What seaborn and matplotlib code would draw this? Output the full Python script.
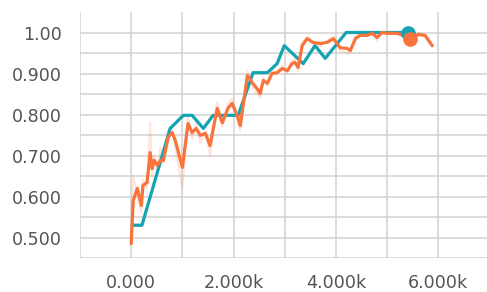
import pandas as pd
import matplotlib
matplotlib.use("Agg")
import matplotlib.pyplot as plt
import seaborn as sns

# ==============================
# datos
# ==============================
teal_step = [20, 210, 760, 1020, 1190, 1410, 1600, 2090, 2380, 2660, 2850,
             2990, 3360, 3590, 3790, 4200, 5410]
teal_value = [0.530, 0.530, 0.766, 0.798, 0.798, 0.766, 0.798, 0.798, 0.902,
              0.902, 0.924, 0.968, 0.924, 0.968, 0.937, 1.000, 1.000]

orange_step = [0, 40, 120, 200, 230, 310, 370, 410, 450, 510, 570, 630, 720,
               800, 860, 1000, 1110, 1190, 1270, 1350, 1450, 1540, 1680, 1780,
               1890, 1970, 2070, 2130, 2270, 2320, 2360, 2460, 2520, 2580, 2660,
               2750, 2850, 2950, 3050, 3140, 3200, 3260, 3340, 3440, 3550, 3690,
               3830, 3950, 4080, 4220, 4280, 4380, 4470, 4610, 4710, 4800, 4900,
               5000, 5100, 5200, 5310, 5450, 5610, 5740, 5880]
orange_smooth = [0.485, 0.590, 0.620, 0.578, 0.627, 0.634, 0.707, 0.668, 0.688,
                 0.676, 0.688, 0.688, 0.744, 0.756, 0.737, 0.671, 0.778, 0.756,
                 0.766, 0.749, 0.754, 0.724, 0.815, 0.780, 0.815, 0.827, 0.798,
                 0.773, 0.895, 0.888, 0.878, 0.863, 0.851, 0.883, 0.876, 0.900,
                 0.902, 0.912, 0.907, 0.924, 0.927, 0.915, 0.968, 0.985, 0.976,
                 0.973, 0.976, 0.985, 0.963, 0.961, 0.956, 0.985, 0.993, 0.993,
                 0.998, 0.988, 1.000, 0.998, 0.998, 0.998, 0.993, 0.985, 0.995,
                 0.993, 0.968]
orange_raw = [0.485, 0.650, 0.600, 0.560, 0.640, 0.620, 0.780, 0.650, 0.700, 0.660,
              0.720, 0.680, 0.760, 0.770, 0.720, 0.620, 0.790, 0.740, 0.780, 0.730,
              0.760, 0.700, 0.830, 0.770, 0.825, 0.840, 0.790, 0.760, 0.905, 0.880,
              0.870, 0.850, 0.840, 0.890, 0.870, 0.910, 0.900, 0.920, 0.900, 0.930,
              0.935, 0.905, 0.975, 0.990, 0.970, 0.965, 0.980, 0.990, 0.955, 0.950,
              0.950, 0.990, 0.995, 0.990, 1.000, 0.980, 1.000, 0.995, 1.000, 0.995,
              0.990, 0.980, 1.000, 0.990, 0.965]
orange_hover = 61  # índice del punto resaltado

x_ticks = [-1000, 0, 1000, 2000, 3000, 4000, 5000, 6000]
x_labels = ["", "0.000", "", "2.000k", "", "4.000k", "", "6.000k"]
y_ticks = [0.45, 0.50, 0.55, 0.60, 0.65, 0.70, 0.75, 0.80, 0.85, 0.90, 0.95, 1.00]
y_labels = ["", "0.500", "", "0.600", "", "0.700", "", "0.800", "", "0.900", "", "1.00"]

teal = pd.DataFrame({"step": teal_step, "value": teal_value})
orange = pd.DataFrame({"step": orange_step, "smooth": orange_smooth, "raw": orange_raw})

TEAL = "#13a3b1"
ORANGE = "#f8743c"
GRID = "#d2d2d2"

sns.set_style("white")
plt.rcParams["font.family"] = ["DejaVu Sans"]

fig = plt.figure(figsize=(4.87, 2.92), dpi=100)
ax = fig.add_axes([80 / 487, 34 / 292, 407 / 487, 246 / 292])

sns.lineplot(data=orange, x="step", y="raw", color=ORANGE, alpha=0.18,
             linewidth=1.5, ax=ax)
sns.lineplot(data=teal, x="step", y="value", color=TEAL, linewidth=2.3, ax=ax)
sns.lineplot(data=orange, x="step", y="smooth", color=ORANGE, linewidth=2.3, ax=ax)

ax.plot(teal_step[-1], teal_value[-1], "o", color=TEAL, markersize=9.5, zorder=5)
ax.plot(orange_step[orange_hover], orange_smooth[orange_hover], "o",
        color=ORANGE, markersize=9.5, zorder=6)

ax.set_xlim(-1000, 6950)
ax.set_ylim(0.45, 1.05)
ax.set_xticks(x_ticks)
ax.set_xticklabels(x_labels)
ax.set_yticks(y_ticks)
ax.set_yticklabels(y_labels)
ax.set_xlabel("")
ax.set_ylabel("")

ax.grid(True, color=GRID, linewidth=1.1, zorder=0)
ax.set_axisbelow(True)
for s in ax.spines.values():
    s.set_visible(False)
ax.tick_params(axis="both", length=5.8, width=1.1, color=GRID,
               labelsize=12.6, labelcolor="#545454")
ax.tick_params(axis="y", pad=7.2)
ax.tick_params(axis="x", pad=6.0)

fig.savefig("out.png", dpi=100)
